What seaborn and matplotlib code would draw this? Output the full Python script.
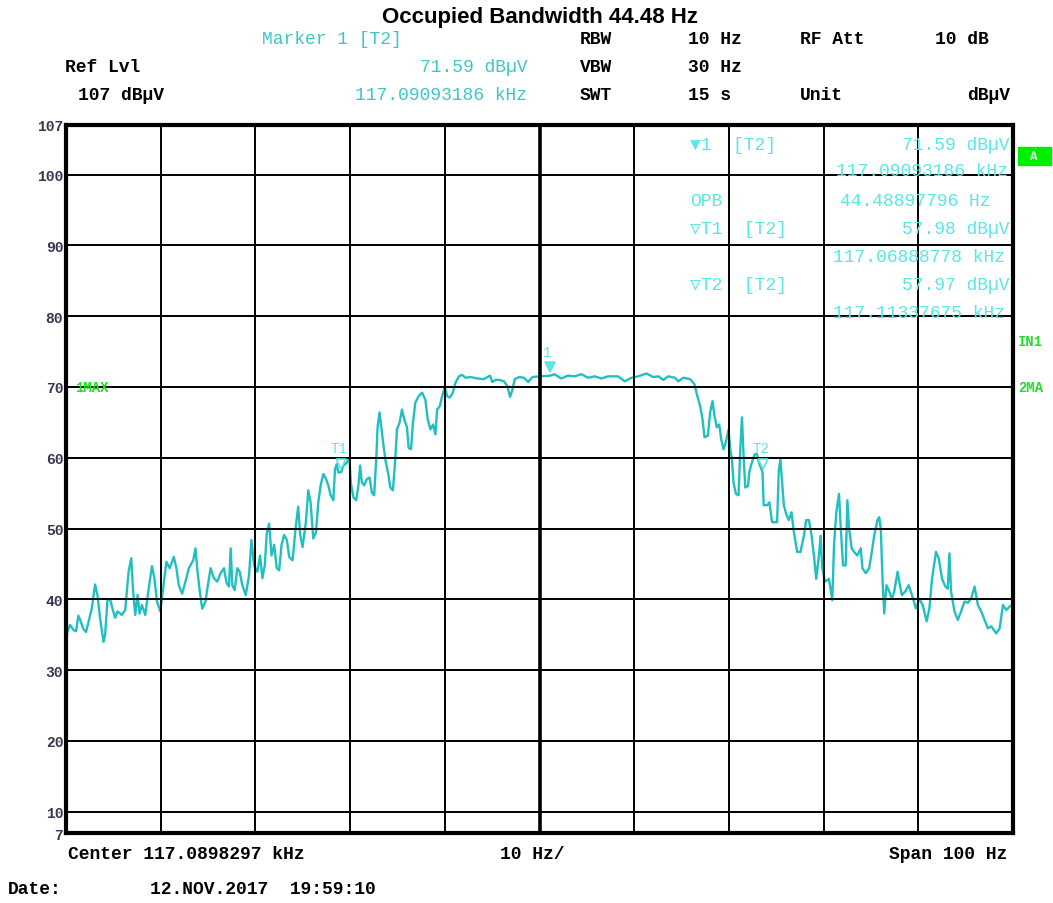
import matplotlib
matplotlib.use("Agg")
import matplotlib.pyplot as plt
from matplotlib.patches import Rectangle
import seaborn as sns
import pandas as pd

# Spectrum trace: offset from center frequency (Hz) and level (dBµV)
freq_offset = [
    -50.00, -49.86, -49.58, -49.22, -48.94, -48.69, -48.45, -48.16, -47.88, -47.53,
    -47.28, -46.93, -46.68, -46.40, -46.04, -45.87, -45.62, -45.34, -45.05, -44.81,
    -44.56, -44.10, -43.75, -43.39, -43.11, -42.93, -42.69, -42.44, -42.23, -41.98,
    -41.63, -41.27, -40.92, -40.67, -40.39, -40.04, -39.75, -39.40, -39.05, -38.62,
    -38.34, -38.09, -37.74, -37.39, -37.03, -36.57, -36.33, -36.15, -35.87, -35.62,
    -35.27, -35.02, -34.73, -34.38, -34.03, -33.67, -33.32, -33.04, -32.79, -32.61,
    -32.44, -32.19, -31.91, -31.66, -31.38, -31.02, -30.67, -30.42, -30.14, -29.79,
    -29.51, -29.26, -29.01, -28.80, -28.55, -28.30, -28.02, -27.74, -27.49, -27.24,
    -26.96, -26.68, -26.43, -26.08, -25.72, -25.48, -25.27, -25.02, -24.66, -24.42,
    -24.17, -23.89, -23.60, -23.36, -23.11, -22.83, -22.54, -22.30, -22.05, -21.77,
    -21.59, -21.41, -21.24, -20.94, -20.71, -20.35, -20.07, -19.93, -19.65, -19.36,
    -19.12, -18.94, -18.76, -18.52, -18.23, -17.95, -17.70, -17.46, -17.24, -17.10,
    -16.89, -16.68, -16.47, -16.22, -15.94, -15.76, -15.48, -15.23, -15.05, -14.77,
    -14.52, -14.28, -13.99, -13.82, -13.57, -13.36, -13.11, -12.76, -12.40, -12.05,
    -11.80, -11.52, -11.24, -10.99, -10.81, -10.53, -10.28, -10.00, -9.75, -9.47,
    -9.15, -8.87, -8.52, -8.16, -7.81, -7.28, -6.57, -5.87, -5.23, -4.98,
    -4.63, -4.28, -3.75, -3.39, -3.11, -2.86, -2.61, -2.16, -1.63, -1.20,
    -0.74, 0.00, 1.10, 1.59, 2.30, 3.00, 3.71, 4.42, 5.12, 5.83,
    6.54, 7.24, 8.30, 9.01, 9.72, 10.42, 11.31, 12.01, 12.54, 13.07,
    13.60, 14.31, 14.66, 15.19, 15.90, 16.36, 16.61, 16.96, 17.21, 17.42,
    17.77, 18.02, 18.27, 18.48, 18.73, 18.98, 19.19, 19.43, 19.68, 19.96,
    20.14, 20.32, 20.49, 20.74, 21.02, 21.20, 21.38, 21.55, 21.73, 22.01,
    22.16, 22.44, 22.72, 22.97, 23.14, 23.55, 23.67, 24.03, 24.28, 24.56,
    25.09, 25.27, 25.44, 25.62, 25.80, 26.04, 26.33, 26.61, 26.86, 27.21,
    27.56, 27.92, 28.16, 28.45, 28.73, 28.98, 29.22, 29.51, 29.68, 29.86,
    30.14, 30.57, 30.92, 31.10, 31.34, 31.63, 31.80, 32.05, 32.33, 32.51,
    32.69, 32.97, 33.22, 33.57, 33.92, 34.10, 34.45, 34.81, 35.09, 35.34,
    35.69, 35.87, 36.04, 36.22, 36.40, 36.64, 36.93, 37.21, 37.46, 37.81,
    37.99, 38.27, 38.62, 38.98, 39.33, 39.75, 40.11, 40.46, 40.88, 41.17,
    41.45, 41.87, 42.16, 42.51, 42.86, 43.11, 43.29, 43.46, 43.82, 44.17,
    44.52, 44.88, 45.23, 45.58, 45.94, 46.29, 46.64, 47.00, 47.35, 47.70,
    48.23, 48.59, 48.94, 49.29, 49.65, 50.00,
]
level_dbuv = [
    33.8, 35.4, 36.4, 35.7, 35.5, 37.7, 36.9, 35.8, 35.4, 37.3,
    38.7, 42.1, 40.6, 37.3, 34.0, 35.0, 39.9, 40.0, 38.5, 37.4,
    38.3, 37.8, 38.5, 43.9, 45.8, 41.5, 37.8, 40.6, 38.0, 39.2,
    37.8, 41.5, 44.7, 43.0, 39.7, 38.3, 41.5, 45.3, 44.4, 46.0,
    44.4, 42.0, 40.8, 42.5, 44.4, 45.5, 47.2, 44.4, 41.1, 38.7,
    39.7, 42.0, 44.4, 43.0, 42.5, 43.7, 44.4, 42.3, 41.8, 47.2,
    42.0, 41.3, 44.4, 43.9, 42.0, 40.6, 43.4, 48.4, 44.8, 43.9,
    46.2, 43.0, 44.8, 49.3, 50.7, 46.2, 47.7, 44.4, 44.1, 47.7,
    49.1, 48.4, 46.0, 45.5, 50.5, 53.1, 49.1, 47.4, 51.0, 55.4,
    53.7, 48.6, 49.5, 53.7, 56.1, 57.7, 57.0, 56.1, 54.7, 54.0,
    58.4, 59.1, 57.9, 57.98, 58.9, 59.3, 60.0, 56.5, 54.4, 54.0,
    56.1, 58.9, 56.5, 56.1, 57.0, 57.2, 55.1, 54.7, 59.8, 64.3,
    66.4, 64.0, 61.7, 59.3, 57.5, 55.8, 55.4, 59.8, 64.0, 65.0,
    66.8, 65.4, 64.3, 61.4, 61.2, 65.0, 67.8, 68.7, 69.2, 68.2,
    65.4, 64.0, 64.7, 63.3, 66.8, 67.3, 68.7, 70.0, 68.7, 68.5,
    69.2, 70.6, 71.5, 71.7, 71.3, 71.4, 71.2, 71.1, 71.6, 70.7,
    71.0, 71.0, 70.8, 70.1, 68.6, 69.6, 71.1, 71.4, 71.3, 70.7,
    71.4, 71.5, 71.59, 71.8, 71.2, 71.6, 71.5, 71.8, 71.3, 71.5,
    71.2, 71.5, 71.5, 70.8, 71.3, 71.5, 71.9, 71.4, 71.5, 71.0,
    71.5, 71.3, 70.8, 71.3, 71.1, 70.4, 69.0, 67.3, 65.5, 62.9,
    63.1, 66.4, 68.0, 65.9, 64.3, 64.7, 62.6, 61.2, 62.2, 64.0,
    61.2, 59.8, 56.5, 54.9, 54.7, 61.2, 65.7, 60.3, 55.8, 56.0,
    58.0, 59.4, 60.5, 60.5, 59.4, 57.97, 53.3, 53.3, 53.7, 50.9,
    50.9, 58.2, 59.8, 56.5, 53.3, 52.1, 51.2, 52.3, 49.5, 46.7,
    46.7, 49.0, 51.2, 51.2, 49.0, 46.2, 42.9, 46.2, 49.0, 44.4,
    42.5, 42.9, 39.9, 47.6, 52.3, 54.9, 50.4, 44.8, 44.8, 54.0,
    50.0, 47.2, 46.7, 46.2, 47.2, 44.4, 43.7, 44.4, 46.7, 49.0,
    51.2, 51.6, 50.0, 42.9, 38.0, 42.0, 41.1, 40.1, 41.1, 43.9,
    42.5, 40.6, 41.1, 42.0, 40.6, 38.7, 40.1, 39.2, 36.9, 38.7,
    42.9, 46.7, 45.8, 42.9, 41.8, 41.5, 46.5, 41.1, 38.3, 37.1,
    38.3, 39.7, 39.5, 40.1, 41.8, 39.2, 38.3, 37.1, 35.9, 36.2,
    35.2, 35.9, 39.2, 38.5, 39.0, 39.2,
]

# Markers: name, offset from center (Hz), level (dBµV)
marker_names = ["1", "T1", "T2"]
marker_offsets = [1.10, -20.94, 23.55]
marker_levels = [71.59, 57.98, 57.97]

# Axis scale
y_ticks = [7, 10, 20, 30, 40, 50, 60, 70, 80, 90, 100, 107]
y_tick_labels = ["7", "10", "20", "30", "40", "50", "60", "70", "80", "90", "100", "107"]
x_grid = [-40, -30, -20, -10, 0, 10, 20, 30, 40]

TRACE = "#22bfc0"
HEAD_CYAN = "#3ec6c6"
PANEL_CYAN = "#5be6e6"
GREEN = "#22dd22"
MONO = ["Liberation Mono", "DejaVu Sans Mono", "DejaVu Sans"]

sns.set_style("white")
plt.rcParams["font.family"] = ["Liberation Mono", "DejaVu Sans"]

W, H = 1053, 904
fig = plt.figure(figsize=(W / 100, H / 100), dpi=100)
ax = fig.add_axes([66 / W, 1 - 834 / H, (1013 - 66) / W, (834 - 126) / H])

df = pd.DataFrame({"offset": freq_offset, "level": level_dbuv})
sns.lineplot(data=df, x="offset", y="level", ax=ax, color=TRACE, lw=1.7,
             estimator=None, sort=False, zorder=2)

ax.set_xlim(-50, 50)
ax.set_ylim(7, 107)
ax.set_xticks([])
ax.set_yticks(y_ticks)
ax.set_yticklabels(y_tick_labels, fontfamily=MONO, fontweight="bold",
                   fontsize=10.5, color="#3a3450")
ax.tick_params(axis="y", length=0, pad=2)
ax.set_xlabel("")
ax.set_ylabel("")

# Graticule drawn over the trace
for xv in x_grid:
    ax.axvline(xv, color="black", lw=2.6 if xv == 0 else 1.4, zorder=3)
for yv in range(10, 101, 10):
    ax.axhline(yv, color="black", lw=1.4, zorder=3)
for s in ax.spines.values():
    s.set_linewidth(3)
    s.set_color("black")
    s.set_zorder(4)

# Markers on the trace
for name, mx, my in zip(marker_names, marker_offsets, marker_levels):
    filled = name == "1"
    ax.plot([mx], [my + 1.2], marker="v", ms=7, color=PANEL_CYAN,
            mfc=PANEL_CYAN if filled else "none", mew=1.2, zorder=5)
    ax.text(mx - (0.3 if filled else 0.2), my + 3.4, name, fontfamily=MONO,
            fontsize=10, color=PANEL_CYAN, ha="center", va="center", zorder=5)

ax.text(-49.0, 70, "1MAX", fontfamily=MONO, fontweight="bold", fontsize=10,
        color=GREEN, ha="left", va="center", zorder=5)


def ftext(x, y, s, ha="left", color="black", size=13, weight="bold",
          family=MONO, z=3):
    fig.text(x / W, 1 - y / H, s, ha=ha, va="center", color=color,
             fontsize=size, fontweight=weight, fontfamily=family, zorder=z)


# Title
ftext(540, 17, "Occupied Bandwidth 44.48 Hz", ha="center", size=16,
      family=["Liberation Sans", "DejaVu Sans"])

# Instrument header
ftext(262, 40, "Marker 1 [T2]", color=HEAD_CYAN, weight="normal")
ftext(580, 40, "RBW")
ftext(688, 40, "10 Hz")
ftext(800, 40, "RF Att")
ftext(935, 40, "10 dB")
ftext(65, 68, "Ref Lvl")
ftext(527, 68, "71.59 dBµV", ha="right", color=HEAD_CYAN, weight="normal")
ftext(580, 68, "VBW")
ftext(688, 68, "30 Hz")
ftext(78, 96, "107 dBµV")
ftext(527, 96, "117.09093186 kHz", ha="right", color=HEAD_CYAN, weight="normal")
ftext(580, 96, "SWT")
ftext(688, 96, "15 s")
ftext(800, 96, "Unit")
ftext(1010, 96, "dBµV", ha="right")

# Marker readout panel inside the diagram
ftext(690, 145, "▼1  [T2]", color=PANEL_CYAN, weight="normal")
ftext(1010, 145, "71.59 dBµV", ha="right", color=PANEL_CYAN, weight="normal")
ftext(1008, 172, "117.09093186 kHz", ha="right", color=PANEL_CYAN, weight="normal")
ftext(690, 201, "OPB", color=PANEL_CYAN, weight="normal")
ftext(990, 201, "44.48897796 Hz", ha="right", color=PANEL_CYAN, weight="normal")
ftext(690, 229, "▽T1  [T2]", color=PANEL_CYAN, weight="normal")
ftext(1010, 229, "57.98 dBµV", ha="right", color=PANEL_CYAN, weight="normal")
ftext(1005, 257, "117.06888778 kHz", ha="right", color=PANEL_CYAN, weight="normal")
ftext(690, 286, "▽T2  [T2]", color=PANEL_CYAN, weight="normal")
ftext(1010, 286, "57.97 dBµV", ha="right", color=PANEL_CYAN, weight="normal")
ftext(1005, 314, "117.11337675 kHz", ha="right", color=PANEL_CYAN, weight="normal")

# Side annotations
fig.patches.append(Rectangle((1018 / W, 1 - 166 / H), 33 / W, 18 / H,
                             transform=fig.transFigure, color="#00ee00",
                             zorder=5))
ftext(1034, 157, "A", ha="center", color="#e0ffe0", size=9, z=6)
ftext(1018, 342, "IN1", color=GREEN, size=10)
ftext(1018, 388, "2MA", color=GREEN, size=10)

# Footer
ftext(68, 855, "Center 117.0898297 kHz")
ftext(500, 855, "10 Hz/")
ftext(1007, 855, "Span 100 Hz", ha="right")
ftext(8, 890, "Date:")
ftext(150, 890, "12.NOV.2017  19:59:10")

fig.savefig("out.png", dpi=100, facecolor="white")
